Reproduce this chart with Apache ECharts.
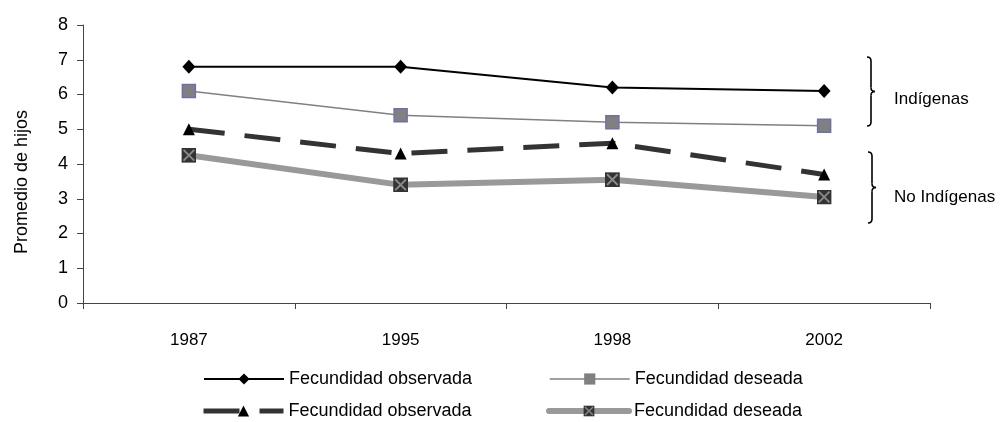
<!DOCTYPE html>
<html>
<head>
<meta charset="utf-8">
<script src="https://cdn.jsdelivr.net/npm/echarts@6/dist/echarts.min.js"></script>
<style>
  html, body { margin: 0; padding: 0; background: #fff; }
  #chart { width: 1002px; height: 422px; }
</style>
</head>
<body>
<div id="chart"></div>
<script>
// Average number of children: observed vs. desired fertility, indigenous and non-indigenous women
const years = ['1987', '1995', '1998', '2002'];
const obsIndigenas = [6.8, 6.8, 6.2, 6.1];
const desIndigenas = [6.1, 5.4, 5.2, 5.1];
const obsNoIndigenas = [5.0, 4.3, 4.6, 3.7];
const desNoIndigenas = [4.25, 3.4, 3.55, 3.05];
const yTicks = [0, 1, 2, 3, 4, 5, 6, 7, 8];

const legendText = {
  obsInd: 'Fecundidad observada',
  desInd: 'Fecundidad deseada',
  obsNo: 'Fecundidad observada',
  desNo: 'Fecundidad deseada'
};

const FONT = '"Liberation Sans", Arial, sans-serif';

// dark square with a grey cross, used as the marker of the last series
const crossSvg = "<svg xmlns='http://www.w3.org/2000/svg' width='28' height='28' viewBox='0 0 28 28'>" +
  "<rect width='28' height='28' fill='#333333'/>" +
  "<path d='M4 4L24 24M24 4L4 24' stroke='#8a8a8a' stroke-width='3.5'/></svg>";
const crossSymbol = 'image://data:image/svg+xml;charset=utf-8,' + encodeURIComponent(crossSvg);

const chart = echarts.init(document.getElementById('chart'), null, { renderer: 'canvas' });

function legendAt(name, left, top, extra) {
  return Object.assign({
    data: [name],
    left: left,
    top: top,
    orient: 'horizontal',
    itemWidth: 80,
    itemHeight: 14,
    padding: 0,
    selectedMode: false,
    formatter: n => legendText[n],
    lineStyle: { width: 'inherit', type: 'inherit', cap: 'inherit' },
    textStyle: { fontFamily: FONT, fontSize: 18, color: '#000' }
  }, extra || {});
}

// curly brace "}" built from straight strokes and quadratic curves
function brace(x, top, bottom, depth) {
  const mid = (top + bottom) / 2;
  const r = 4;
  const xs = x + depth / 2;
  const st = { stroke: '#000', lineWidth: 1.6, fill: null };
  const curve = (x1, y1, cx, cy, x2, y2) => ({
    type: 'bezierCurve',
    shape: { x1: x1, y1: y1, cpx1: cx, cpy1: cy, x2: x2, y2: y2 },
    style: st
  });
  const line = (x1, y1, x2, y2) => ({
    type: 'line',
    shape: { x1: x1, y1: y1, x2: x2, y2: y2 },
    style: st
  });
  return {
    type: 'group',
    children: [
      curve(x, top, xs, top, xs, top + r),
      line(xs, top + r, xs, mid - r),
      curve(xs, mid - r, xs, mid, x + depth, mid),
      curve(x + depth, mid, xs, mid, xs, mid + r),
      line(xs, mid + r, xs, bottom - r),
      curve(xs, bottom - r, xs, bottom, x, bottom)
    ]
  };
}

chart.setOption({
  animation: false,
  backgroundColor: '#fff',
  grid: { left: 83, right: 72, top: 25, bottom: 119, containLabel: false },
  xAxis: {
    type: 'category',
    data: years,
    boundaryGap: true,
    axisLine: { lineStyle: { color: '#444', width: 1 } },
    axisTick: { show: true, length: 6, lineStyle: { color: '#444' } },
    axisLabel: { margin: 29, fontFamily: FONT, fontSize: 17, color: '#000' },
    splitLine: { show: false }
  },
  yAxis: {
    type: 'value',
    min: yTicks[0],
    max: yTicks[yTicks.length - 1],
    interval: 1,
    axisLine: { show: true, lineStyle: { color: '#444', width: 1 } },
    axisTick: { show: true, length: 6, lineStyle: { color: '#444' } },
    axisLabel: { margin: 15, fontFamily: FONT, fontSize: 18, color: '#000' },
    splitLine: { show: false }
  },
  legend: [
    legendAt('obsInd', 203, 370),
    legendAt('desInd', 549, 370, { itemStyle: { borderWidth: 0 } }),
    legendAt('obsNo', 201, 402),
    legendAt('desNo', 546, 402)
  ],
  series: [
    {
      name: 'desNo',
      type: 'line',
      data: desNoIndigenas,
      z: 2,
      symbol: crossSymbol,
      symbolSize: 15,
      lineStyle: { color: '#999999', width: 6, cap: 'round' },
      itemStyle: { color: '#333333' }
    },
    {
      name: 'obsNo',
      type: 'line',
      data: obsNoIndigenas,
      z: 3,
      symbol: 'triangle',
      symbolSize: [12, 12],
      lineStyle: { color: '#333333', width: 5, type: [36, 20] },
      itemStyle: { color: '#000000' }
    },
    {
      name: 'desInd',
      type: 'line',
      data: desIndigenas,
      z: 4,
      symbol: 'rect',
      symbolSize: 13,
      lineStyle: { color: '#808080', width: 1.5 },
      itemStyle: { color: '#808080', borderColor: '#6f6fae', borderWidth: 1.5 }
    },
    {
      name: 'obsInd',
      type: 'line',
      data: obsIndigenas,
      z: 5,
      symbol: 'diamond',
      symbolSize: [13, 14],
      lineStyle: { color: '#000000', width: 2 },
      itemStyle: { color: '#000000' }
    }
  ],
  graphic: [
    {
      type: 'text',
      x: 22, y: 182,
      rotation: Math.PI / 2,
      style: {
        text: 'Promedio de hijos',
        fontFamily: FONT, fontSize: 18, fill: '#000',
        align: 'center', verticalAlign: 'middle'
      }
    },
    brace(867, 57, 126, 8),
    brace(868, 152, 223, 8),
    {
      type: 'text', x: 894, y: 99,
      style: { text: 'Indígenas', fontFamily: FONT, fontSize: 17, fill: '#000', verticalAlign: 'middle' }
    },
    {
      type: 'text', x: 894, y: 197,
      style: { text: 'No Indígenas', fontFamily: FONT, fontSize: 17, fill: '#000', verticalAlign: 'middle' }
    }
  ]
});
</script>
</body>
</html>
